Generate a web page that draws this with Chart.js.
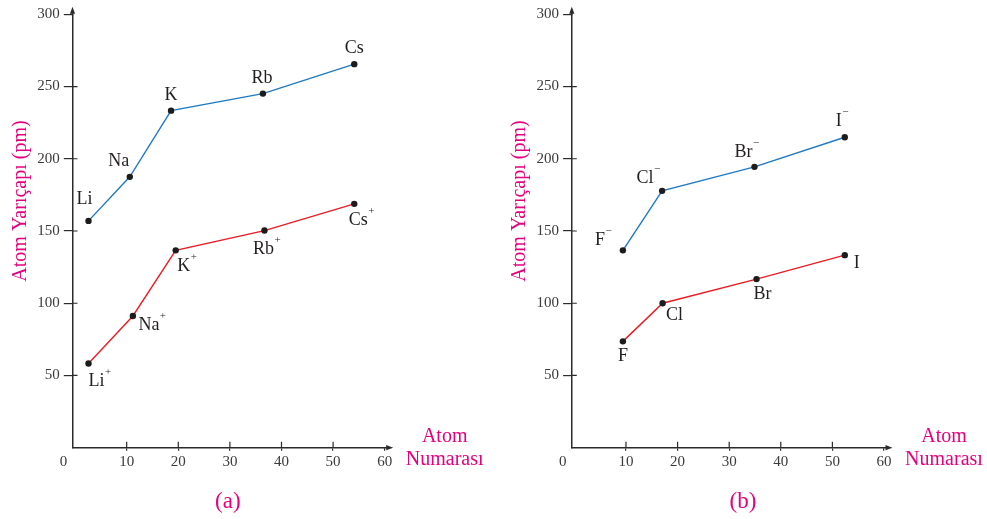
<!DOCTYPE html>
<html><head><meta charset="utf-8">
<script src="https://cdn.jsdelivr.net/npm/chart.js@4"></script>
<style>
html,body{margin:0;padding:0;background:#fff;}
body{width:987px;height:519px;position:relative;overflow:hidden;}
.wrap{position:absolute;top:0;height:519px;}
#wa{left:0;width:493px;}
#wb{left:493px;width:494px;}
canvas{display:block;}
</style></head><body>
<div class="wrap" id="wa"><canvas id="ca"></canvas></div>
<div class="wrap" id="wb"><canvas id="cb"></canvas></div>
<script>
// ---------- data ----------
const xTicks = [10, 20, 30, 40, 50, 60];
const yTicks = [50, 100, 150, 200, 250, 300];

// (a) alkali metals: atoms (blue) and cations (red)
const aNames = ['Li', 'Na', 'K', 'Rb', 'Cs'];
const aAtomNumber = [2.6, 10.6, 18.6, 36.4, 54.1];
const aAtomRadius = [157, 187.5, 233.3, 245.1, 265.5];
const aIonNumber = [2.6, 11.2, 19.5, 36.7, 54.1];
const aIonRadius = [58.3, 91.2, 136.6, 150.3, 168.8];
const aIonCharge = '+';

// (b) halogens: anions (blue) and atoms (red)
const bNames = ['F', 'Cl', 'Br', 'I'];
const bIonNumber = [9.4, 17.0, 34.9, 52.4];
const bIonRadius = [136.6, 177.8, 194.4, 214.9];
const bIonCharge = '\u2212';
const bAtomNumber = [9.4, 17.1, 35.3, 52.4];
const bAtomRadius = [73.6, 100, 116.7, 133.3];

const yTitle = 'Atom Yarıçapı (pm)';
const xTitle = ['Atom', 'Numarası'];
const panelTitles = ['(a)', '(b)'];

// ---------- styling ----------
const SERIF = "'Liberation Serif', 'DejaVu Serif', serif";
const AXIS = '#2b2b2b';
const TICK = '#3a3a3a';
const LABEL = '#231f20';
const MAGENTA = '#e5007e';
const BLUE = '#1f7ac4';
const RED = '#ec1c24';

// label offsets (px) of each point label relative to its point
const aAtomOff = [[-4, -22], [-11, -16], [0, -15], [-1, -15], [0, -16]];
const aIonOff = [[8, 18], [16, 9], [8, 16], [-1, 19], [4, 16]];
const bIonOff = [[-23, -10], [-17, -13], [-11, -15], [-6, -16]];
const bAtomOff = [[0, 15], [12, 12], [6, 15], [12, 8]];

const decor = {
  id: 'decor',
  afterDraw(chart) {
    const m = chart.options.plugins.decor;
    const {ctx, chartArea: ca} = chart;
    ctx.save();
    // axis extensions + arrows
    ctx.strokeStyle = AXIS; ctx.fillStyle = AXIS; ctx.lineWidth = 1.5;
    ctx.beginPath();
    ctx.moveTo(ca.left, ca.top + 1); ctx.lineTo(ca.left, ca.top - 4);
    ctx.moveTo(ca.right - 1, ca.bottom); ctx.lineTo(ca.right + 5, ca.bottom);
    ctx.stroke();
    ctx.beginPath();
    ctx.moveTo(ca.left, ca.top - 7.5); ctx.lineTo(ca.left - 2.6, ca.top - 0.5); ctx.lineTo(ca.left + 2.6, ca.top - 0.5); ctx.closePath(); ctx.fill();
    ctx.beginPath();
    ctx.moveTo(ca.right + 8.5, ca.bottom); ctx.lineTo(ca.right + 1.5, ca.bottom - 2.6); ctx.lineTo(ca.right + 1.5, ca.bottom + 2.6); ctx.closePath(); ctx.fill();
    // inner tick stubs
    ctx.lineWidth = 1.2;
    ctx.beginPath();
    const ys = chart.scales.y, xs = chart.scales.x;
    yTicks.forEach(v => { if (v < 300) { const p = ys.getPixelForValue(v); ctx.moveTo(ca.left, p); ctx.lineTo(ca.left + 5, p); } });
    xTicks.forEach(v => { if (v < 60) { const p = xs.getPixelForValue(v); ctx.moveTo(p, ca.bottom); ctx.lineTo(p, ca.bottom - 6); } });
    ctx.stroke();
    // origin "0"
    ctx.fillStyle = TICK; ctx.font = '15px ' + SERIF; ctx.textAlign = 'center'; ctx.textBaseline = 'middle';
    ctx.fillText('0', ca.left - 9, ca.bottom + 14);
    // axis titles
    ctx.fillStyle = MAGENTA; ctx.font = '20px ' + SERIF;
    ctx.save();
    ctx.translate(ca.left - 47, 201); ctx.rotate(-Math.PI / 2);
    ctx.textAlign = 'center'; ctx.textBaseline = 'alphabetic';
    ctx.fillText(yTitle, 0, 0);
    ctx.restore();
    ctx.textAlign = 'center'; ctx.textBaseline = 'middle';
    ctx.fillText(xTitle[0], ca.right + 60, ca.bottom - 11);
    ctx.fillText(xTitle[1], ca.right + 60, ca.bottom + 12.5);
    ctx.font = '23px ' + SERIF;
    ctx.fillText(m.panel, ca.left + m.panelX, ca.bottom + 54);
    // point labels
    chart.data.datasets.forEach((ds, i) => {
      const meta = chart.getDatasetMeta(i);
      meta.data.forEach((el, j) => {
        const off = ds.offs[j];
        const cx = el.x + off[0], cy = el.y + off[1];
        ctx.fillStyle = LABEL; ctx.font = '18px ' + SERIF;
        ctx.textAlign = 'center'; ctx.textBaseline = 'middle';
        ctx.fillText(ds.ptLabels[j], cx, cy);
        if (ds.charge) {
          const w = ctx.measureText(ds.ptLabels[j]).width;
          ctx.font = '11px ' + SERIF; ctx.textAlign = 'left';
          ctx.fillText(ds.charge, cx + w / 2 + 0.5, cy - 9);
        }
      });
    });
    ctx.restore();
  }
};

function makeChart(id, cfg) {
  return new Chart(document.getElementById(id), {
    type: 'line',
    data: {
      datasets: cfg.series.map(s => ({
        data: s.x.map((v, i) => ({x: v, y: s.y[i]})),
        borderColor: s.color, borderWidth: 1.4, tension: 0,
        pointRadius: 3.2, pointHoverRadius: 3.2, pointBackgroundColor: '#1c1c1c', pointBorderWidth: 0,
        ptLabels: s.labels, charge: s.charge, offs: s.offs
      }))
    },
    options: {
      responsive: true, maintainAspectRatio: false, animation: false, events: [],
      layout: {padding: {left: 0, top: 14.3, right: cfg.padRight, bottom: 0}},
      plugins: {legend: {display: false}, tooltip: {enabled: false}, decor: {panel: cfg.panel, panelX: cfg.panelX}},
      scales: {
        x: {
          type: 'linear', min: -0.5, max: 60,
          afterBuildTicks: s => { s.ticks = xTicks.map(v => ({value: v})); },
          afterFit: s => { s.height = 519 - 447.7; },
          grid: {drawOnChartArea: false, drawTicks: true, tickLength: 3, color: AXIS, lineWidth: 1.2},
          border: {display: true, color: AXIS, width: 1.5},
          ticks: {padding: 2, color: TICK, font: {family: SERIF, size: 15}, maxRotation: 0, autoSkip: false}
        },
        y: {
          type: 'linear', min: 0, max: 300,
          afterBuildTicks: s => { s.ticks = yTicks.map(v => ({value: v})); },
          afterFit: s => { s.width = cfg.axisLeft; },
          grid: {drawOnChartArea: false, drawTicks: true, tickLength: 8.7, color: AXIS, lineWidth: 1.2},
          border: {display: true, color: AXIS, width: 1.5},
          ticks: {padding: 4, color: TICK, font: {family: SERIF, size: 15}, autoSkip: false}
        }
      }
    },
    plugins: [decor]
  });
}

makeChart('ca', {
  axisLeft: 72.5, padRight: 108.3, panel: panelTitles[0], panelX: 155.3,
  series: [
    {x: aAtomNumber, y: aAtomRadius, color: BLUE, labels: aNames, charge: '', offs: aAtomOff},
    {x: aIonNumber, y: aIonRadius, color: RED, labels: aNames, charge: aIonCharge, offs: aIonOff}
  ]
});
makeChart('cb', {
  axisLeft: 78.8, padRight: 103, panel: panelTitles[1], panelX: 171.2,
  series: [
    {x: bIonNumber, y: bIonRadius, color: BLUE, labels: bNames, charge: bIonCharge, offs: bIonOff},
    {x: bAtomNumber, y: bAtomRadius, color: RED, labels: bNames, charge: '', offs: bAtomOff}
  ]
});
</script>
</body></html>
